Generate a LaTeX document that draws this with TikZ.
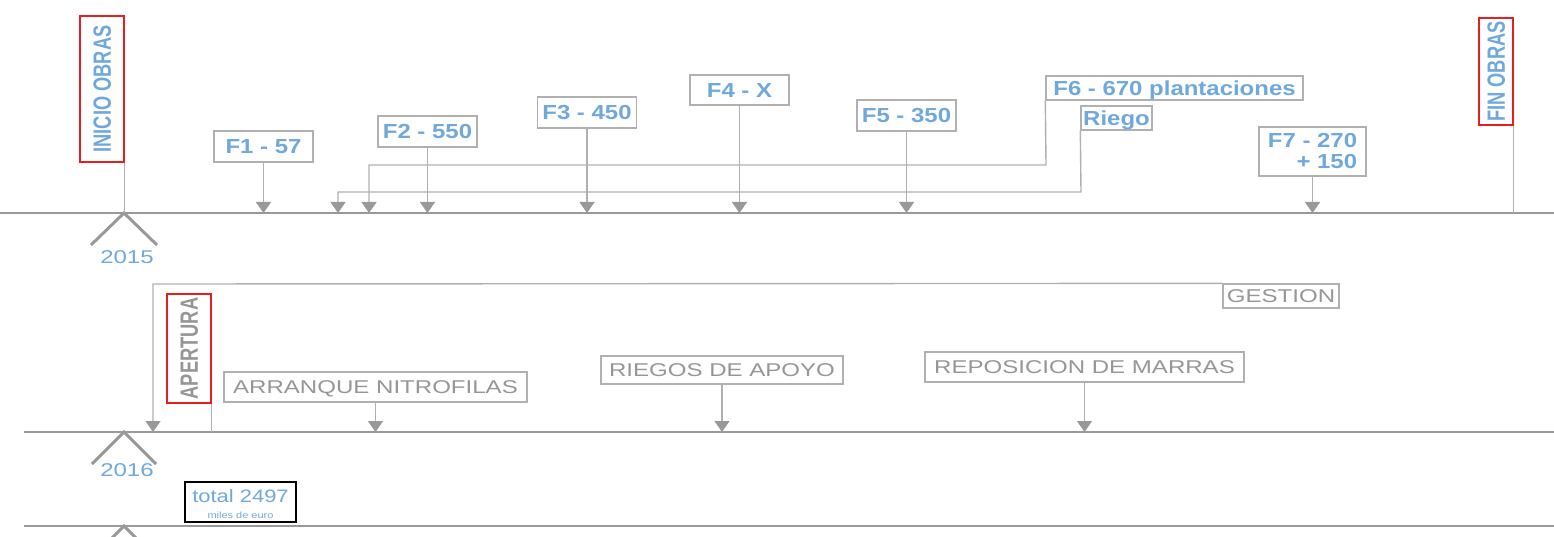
\documentclass[tikz,border=0pt]{standalone}
\usepackage{fontspec}
\setmainfont{Liberation Sans}
\newfontfamily\bfnt[FakeStretch=1.18]{Liberation Sans}
\newfontfamily\rfnt[FakeStretch=0.73]{Liberation Sans}
\newfontfamily\gfnt[FakeStretch=1.3]{Liberation Sans}
\newfontfamily\tfnt[FakeStretch=1.22]{Liberation Sans}
\usetikzlibrary{arrows.meta}
\definecolor{tblue}{RGB}{111,168,220}
\definecolor{tgray}{RGB}{150,150,150}
\definecolor{lgray}{RGB}{176,176,176}
\definecolor{agray}{RGB}{153,153,153}
\definecolor{rred}{RGB}{232,30,30}
\begin{document}
\begin{tikzpicture}[x=1pt,y=-1pt,
  fboxbase/.style={draw=lgray, line width=1.4pt, fill=white, inner sep=0pt, text=tblue,
    font=\bfnt\bfseries\fontsize{20.3}{21}\selectfont},
  fbox/.style={fboxbase, text height=14.5pt, text depth=0pt},
  gbox/.style={draw=lgray, line width=1.3pt, fill=white, inner sep=0pt, text=tgray,
    font=\gfnt\fontsize{18.5}{20}\selectfont, text height=13.2pt, text depth=0pt},
  rbox/.style={draw=rred, line width=1.4pt, inner sep=0pt, rotate=90,
    font=\rfnt\bfseries\fontsize{25}{25}\selectfont, text height=17.9pt, text depth=0pt},
  year/.style={inner sep=0pt, text=tblue, font=\gfnt\fontsize{18.5}{20}\selectfont,
    text height=13.2pt, text depth=0pt},
  axis/.style={draw=agray, line width=2.5pt},
  chev/.style={draw=agray, line width=3pt},
  conn/.style={draw=lgray, line width=1.4pt},
  arr/.style={conn, -{Triangle[width=15pt 0,length=11pt 0,color=agray]}}
]
\useasboundingbox (0,0) rectangle (1554,537);

% axes
\coordinate (t1l) at (0,213);   \coordinate (t1r) at (1554,213);
\coordinate (t2l) at (24,432);  \coordinate (t2r) at (1554,432);
\coordinate (t3l) at (24,526);  \coordinate (t3r) at (1554,526);
\draw[axis] (t1l) -- (t1r);
\draw[axis] (t2l) -- (t2r);
\draw[axis] (t3l) -- (t3r);
\draw[chev] (91,245) -- (124,213) -- (157,245);
\draw[chev] (92,464) -- (124,432) -- (156,464);
\draw[chev] (92,558) -- (124,526) -- (156,558);

\node[year] (y15) at (127,257) {2015};
\node[year] (y16) at (127,470) {2016};

% ---- row 1 ----
\node[rbox, text=tblue, minimum width=146pt, minimum height=44pt] (ini) at (102,89) {INICIO OBRAS};
\node[rbox, text=tblue, minimum width=107pt, minimum height=34pt] (fin) at (1496,71.5) {FIN OBRAS};
\draw[conn] (ini.south west) -- (ini.south west |- t1l);
\draw[conn] (fin.south west) -- (fin.south west |- t1l);

\node[fbox, minimum width=99pt, minimum height=31pt] (f1) at (263.5,146.5) {F1 - 57};
\node[fbox, minimum width=99pt, minimum height=31pt] (f2) at (427.5,131.5) {F2 - 550};
\node[fbox, minimum width=99pt, minimum height=31pt] (f3) at (587,112.5) {F3 - 450};
\node[fbox, minimum width=99pt, minimum height=30pt] (f4) at (739.5,90) {F4 - X};
\node[fbox, minimum width=99pt, minimum height=31pt] (f5) at (906.5,115.5) {F5 - 350};
\node[fbox, minimum width=257pt, minimum height=24pt] (f6) at (1174.5,88) {F6 - 670 plantaciones};
\node[fbox, minimum width=71pt, minimum height=24pt] (rg) at (1116.5,118) {Riego};
\node[fboxbase, align=right, minimum width=107pt, minimum height=49pt] (f7) at (1312.5,151.5) {F7 - 270\\+ 150};

\draw[arr] (f1.south) -- (f1.south |- t1l);
\draw[arr] (f2.south) -- (f2.south |- t1l);
\draw[arr] (f3.south) -- (f3.south |- t1l);
\draw[arr] (f4.south) -- (f4.south |- t1l);
\draw[arr] (f5.south) -- (f5.south |- t1l);
\draw[arr] (f7.south) -- (f7.south |- t1l);
\draw[arr] (f6.south west) -- (1046,165) -- (369,165) -- (369,213);
\draw[arr] (rg.south west) -- (1081,192) -- (338,192) -- (338,213);

% ---- row 2 ----
\node[gbox, minimum width=116pt, minimum height=24pt] (ges) at (1281,296) {GESTION};
\node[rbox, text=tgray, minimum width=109pt, minimum height=44pt] (ape) at (189,348.5) {APERTURA};
\node[gbox, minimum width=303pt, minimum height=30pt] (arr) at (375.5,387) {ARRANQUE NITROFILAS};
\node[gbox, minimum width=242pt, minimum height=28pt] (rie) at (722,370) {RIEGOS DE APOYO};
\node[gbox, minimum width=319pt, minimum height=30pt] (rep) at (1084.5,367) {REPOSICION DE MARRAS};

\draw[arr] (ges.north west) -- (153,284) -- (153,432);
\draw[conn] (ape.south west) -- (ape.south west |- t2l);
\draw[arr] (arr.south) -- (arr.south |- t2l);
\draw[arr] (rie.south) -- (rie.south |- t2l);
\draw[arr] (rep.south) -- (rep.south |- t2l);

% ---- total ----
\node[draw=black, line width=1.3pt, fill=white, inner sep=0pt, minimum width=111pt, minimum height=40pt] (tot) at (240.5,502) {};
\node[inner sep=0pt, text=tblue, font=\tfnt\fontsize{18}{18}\selectfont, text height=13pt, text depth=0pt] (totv) at (240.5,495.5) {total 2497};
\node[inner sep=0pt, text=tblue, font=\tfnt\fontsize{9}{9}\selectfont] (totu) at (240.5,515) {miles de euro};
\end{tikzpicture}
\end{document}
